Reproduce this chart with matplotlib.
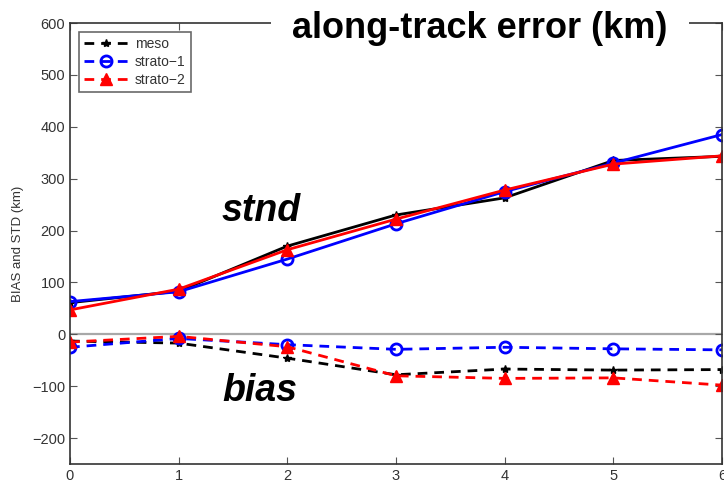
import matplotlib
matplotlib.use("Agg")
import matplotlib.pyplot as plt

plt.rcParams['font.family'] = ['Liberation Sans', 'DejaVu Sans']

# forecast day
days = [0, 1, 2, 3, 4, 5, 6]

# standard deviation of along-track error (km)
std_meso = [61, 83, 170, 230, 263, 335, 343]
std_strato1 = [63, 82, 145, 213, 275, 330, 385]
std_strato2 = [47, 87, 163, 222, 278, 328, 344]

# bias of along-track error (km)
bias_meso = [-13, -17, -46, -78, -67, -69, -68]
bias_strato1 = [-25, -8, -20, -29, -25, -28, -30]
bias_strato2 = [-15, -4, -24, -80, -85, -84, -98]

yticks = [-200, -100, 0, 100, 200, 300, 400, 500, 600]

W, H = 724, 486
fig = plt.figure(figsize=(W / 100, H / 100), dpi=100)
ax = fig.add_axes([70/W, 1 - 464/H, 652/W, 441/H])

ax.axhline(0, color='#a8a8a8', lw=1.6, zorder=1)

dash = (0, (3.5, 2.5))
ax.plot(days, bias_meso, color='black', ls=dash, lw=2, marker='*', ms=6)
ax.plot(days, bias_strato1, color='blue', ls=dash, lw=2, marker='o', ms=8,
        mfc='none', mew=2)
ax.plot(days, bias_strato2, color='red', ls=dash, lw=2, marker='^', ms=9)

ax.plot(days, std_meso, color='black', lw=2, marker='*', ms=6, label='meso')
ax.plot(days, std_strato1, color='blue', lw=2, marker='o', ms=8,
        mfc='none', mew=2, label='strato\u22121')
ax.plot(days, std_strato2, color='red', lw=2, marker='^', ms=9,
        label='strato\u22122')

ax.set_xlim(0, 6)
ax.set_ylim(-250, 600)
ax.set_xticks(days)
ax.set_yticks(yticks)
ax.set_yticklabels([str(v).replace('-', '\u2212') for v in yticks])
ax.tick_params(direction='in', top=True, right=True, length=5,
               labelsize=10.5, labelcolor='#333333', color='#555555')
for s in ax.spines.values():
    s.set_color('#333333')
    s.set_linewidth(1.2)

ax.set_ylabel('BIAS and STD (km)', fontsize=9.5, color='#333333', labelpad=6)

# legend uses dashed lines for all entries
handles = [
    plt.Line2D([], [], color='black', ls=dash, lw=2, marker='*', ms=6),
    plt.Line2D([], [], color='blue', ls=dash, lw=2, marker='o', ms=8,
               mfc='none', mew=2),
    plt.Line2D([], [], color='red', ls=dash, lw=2, marker='^', ms=9),
]
leg = ax.legend(handles, ['meso', 'strato\u22121', 'strato\u22122'],
                loc='upper left', bbox_to_anchor=(0.003, 0.995),
                fontsize=10, fancybox=False, handlelength=3.2,
                handletextpad=0.5, labelspacing=0.3, borderpad=0.35,
                labelcolor='#333333')
leg.get_frame().set_edgecolor('#444444')
leg.get_frame().set_linewidth(1.2)

fig.text(222/W, 1 - 211/H, 'stnd', fontsize=27, fontweight='bold',
         fontstyle='italic', va='center', ha='left')
fig.text(222/W, 1 - 391/H, 'bias', fontsize=27, fontweight='bold',
         fontstyle='italic', va='center', ha='left')

fig.text(480/W, 1 - 29/H, 'along-track error (km)', fontsize=26,
         fontweight='bold', ha='center', va='center',
         bbox=dict(boxstyle='square,pad=0.6', fc='white', ec='none'),
         zorder=10)

fig.savefig('out.png', dpi=100)
